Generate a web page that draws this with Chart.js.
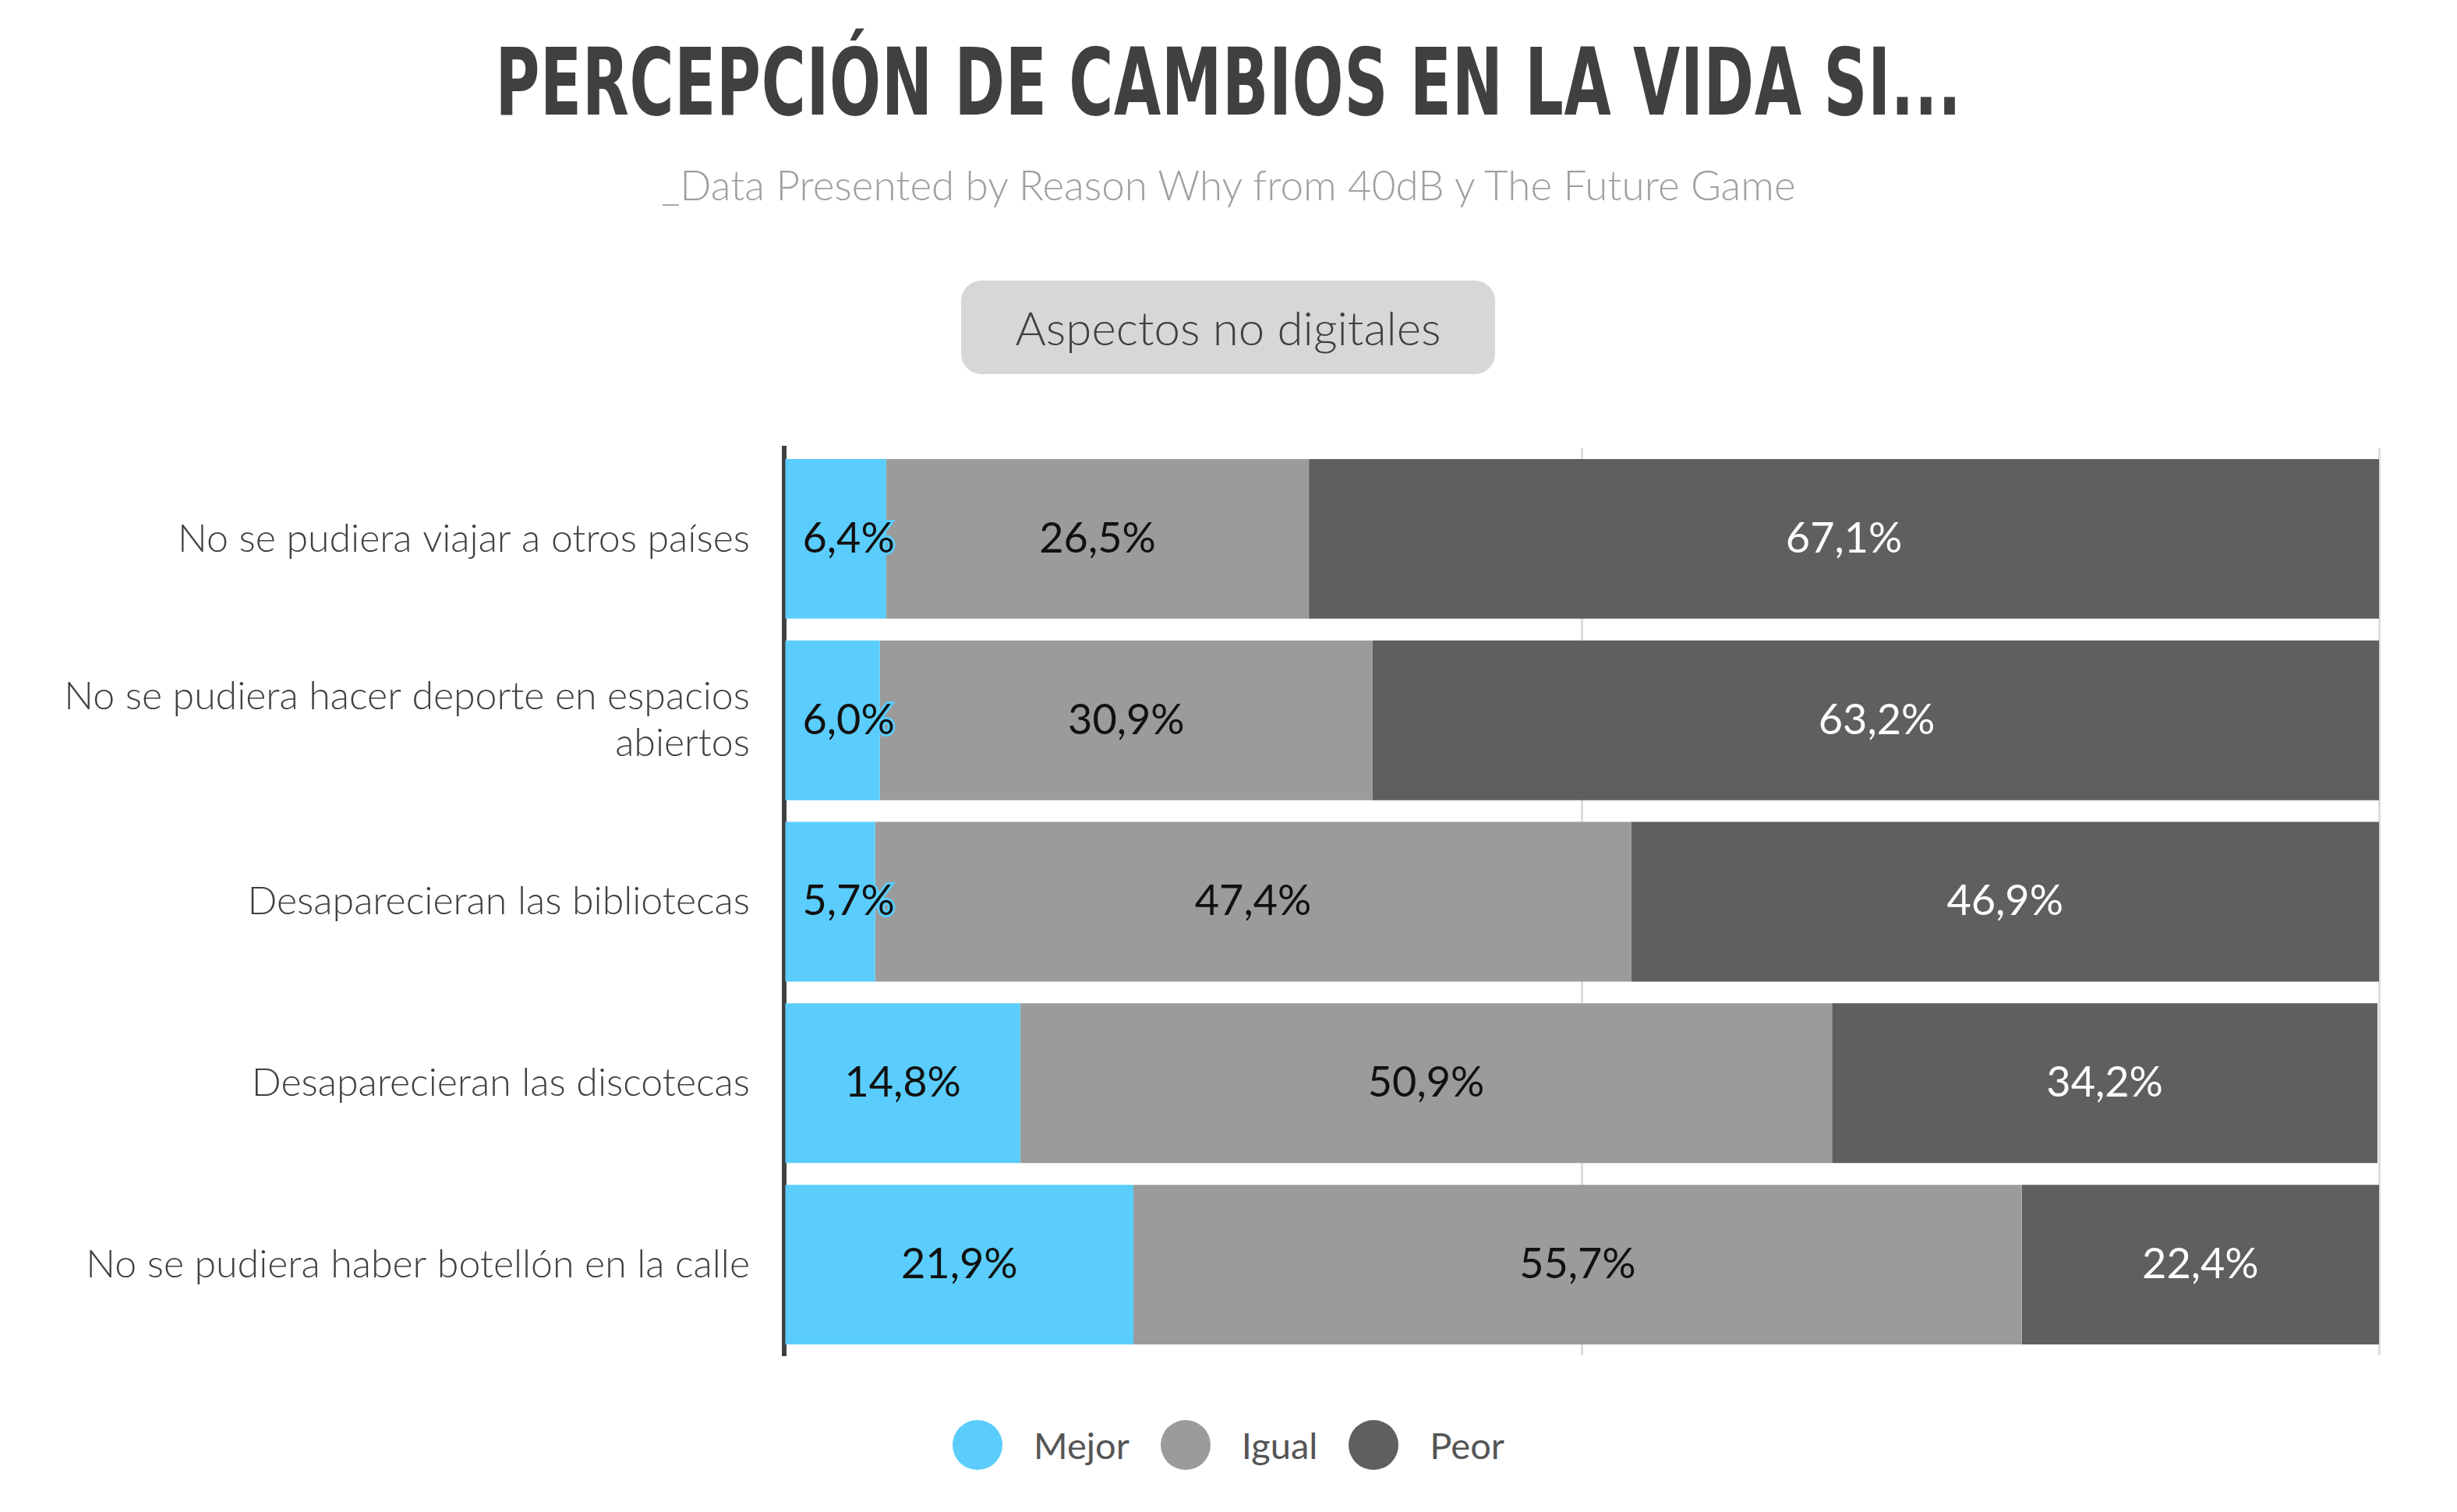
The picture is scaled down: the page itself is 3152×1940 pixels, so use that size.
<!DOCTYPE html>
<html lang="es">
<head>
<meta charset="UTF-8">
<title>Percepción de cambios</title>
<script src="https://cdn.jsdelivr.net/npm/chart.js"></script>
<style>
  body { margin:0; width:3152px; height:1940px; background:#fff; font-family: Lato, sans-serif; position:relative; overflow:hidden; }
  #title { position:absolute; top:36px; width:100%; text-align:center; font-family:"DejaVu Sans Condensed","DejaVu Sans",sans-serif; font-weight:bold; font-size:120px; color:#404040; letter-spacing:1px; transform:scaleX(0.72); }
  #sub { position:absolute; top:205px; width:100%; text-align:center; font-size:53px; color:#a0a0a0; font-weight:300; }
  #btn { position:absolute; left:1233px; top:360px; width:685px; height:120px; background:#d7d7d7; border-radius:26px; text-align:center; line-height:120px; font-size:60px; color:#404040; font-weight:300; }
  #wrap { position:absolute; left:0; top:509px; width:3152px; height:1296px; }
  #legend { position:absolute; top:1822px; width:100%; display:flex; justify-content:center; gap:40px; font-size:47px; color:#555; font-weight:400; }
  .it { display:flex; align-items:center; gap:40px; }
  .dot { width:64px; height:64px; border-radius:50%; }
</style>
</head>
<body>
<div id="title">PERCEPCIÓN DE CAMBIOS EN LA VIDA SI...</div>
<div id="sub">_Data Presented by Reason Why from 40dB y The Future Game</div>
<div id="btn">Aspectos no digitales</div>
<div id="wrap"><canvas id="c"></canvas></div>
<div id="legend">
  <div class="it"><div class="dot" style="background:#5bcdfc"></div>Mejor</div>
  <div class="it"><div class="dot" style="background:#9b9b9b"></div>Igual</div>
  <div class="it"><div class="dot" style="background:#5f5f5f"></div>Peor</div>
</div>
<script>
const categories = [
  'No se pudiera viajar a otros países',
  ['No se pudiera hacer deporte en espacios', 'abiertos'],
  'Desaparecieran las bibliotecas',
  'Desaparecieran las discotecas',
  'No se pudiera haber botellón en la calle'
];
const mejor = [6.4, 6.0, 5.7, 14.8, 21.9];
const igual = [26.5, 30.9, 47.4, 50.9, 55.7];
const peor = [67.1, 63.2, 46.9, 34.2, 22.4];

const fmt = v => v.toFixed(1).replace('.', ',') + '%';

const valueLabels = {
  id: 'valueLabels',
  afterDatasetsDraw(chart) {
    const ctx = chart.ctx;
    ctx.save();
    ctx.font = '400 54px Lato';
    ctx.textBaseline = 'middle';
    ctx.textAlign = 'center';
    chart.data.datasets.forEach((ds, di) => {
      chart.getDatasetMeta(di).data.forEach((bar, i) => {
        const v = ds.data[i];
        const x = (bar.x + bar.base) / 2, y = bar.y;
        if (di === 0 && v < 10) {
          ctx.textAlign = 'left';
          ctx.lineWidth = 6; ctx.strokeStyle = '#5bcdfc';
          ctx.strokeText(fmt(v), bar.base + 22, y);
          ctx.fillStyle = '#111';
          ctx.fillText(fmt(v), bar.base + 22, y);
          ctx.textAlign = 'center';
        } else {
          ctx.fillStyle = di === 2 ? '#fff' : '#111';
          ctx.fillText(fmt(v), x, y);
        }
      });
    });
    ctx.restore();
  }
};

new Chart(document.getElementById('c'), {
  type: 'bar',
  data: {
    labels: categories,
    datasets: [
      { label: 'Mejor', data: mejor, backgroundColor: '#5bcdfc' },
      { label: 'Igual', data: igual, backgroundColor: '#9b9b9b' },
      { label: 'Peor', data: peor, backgroundColor: '#5f5f5f' }
    ]
  },
  options: {
    indexAxis: 'y',
    responsive: true,
    maintainAspectRatio: false,
    animation: false,
    layout: { padding: { left: 0, right: 100, top: 0, bottom: 0 } },
    datasets: { bar: { barPercentage: 0.88, categoryPercentage: 1 } },
    plugins: { legend: { display: false }, tooltip: { enabled: false } },
    scales: {
      x: {
        stacked: true, min: 0, max: 100,
        ticks: { display: false, stepSize: 50 },
        grid: { color: '#dddddd', lineWidth: 3, drawTicks: false },
        border: { display: false }
      },
      y: {
        stacked: true,
        afterFit: s => { s.width = 1006; },
        ticks: { color: '#404040', font: { family: 'Lato', size: 50, weight: 300 }, padding: 36 },
        grid: { display: false },
        border: { display: true, color: '#404040', width: 6 }
      }
    }
  },
  plugins: [valueLabels]
});
</script>
</body>
</html>
